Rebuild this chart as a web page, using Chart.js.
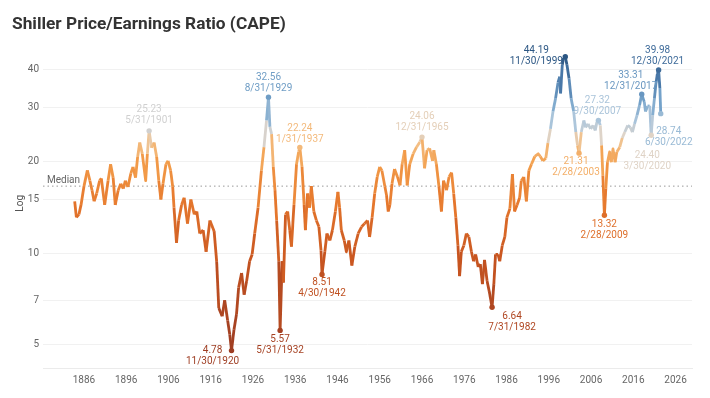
<!DOCTYPE html>
<html lang="en">
<head>
<meta charset="UTF-8">
<title>Shiller Price/Earnings Ratio (CAPE)</title>
<script src="https://cdn.jsdelivr.net/npm/chart.js"></script>
<style>
  html, body { margin: 0; padding: 0; background: #fff; }
</style>
</head>
<body>
<canvas id="cape" width="710" height="398"></canvas>
<script>
// CAPE readings (decimal year, ratio)
const years = [
  1883.8, 1884.2, 1884.8, 1885.3, 1886.0, 1886.8, 1887.4, 1887.9, 1888.4, 1889.0,
  1889.7, 1890.1, 1890.9, 1891.7, 1892.3, 1892.9, 1893.4, 1894.1, 1894.7, 1895.3,
  1895.8, 1896.4, 1897.1, 1897.6, 1898.2, 1898.7, 1899.2, 1899.8, 1900.6, 1901.0,
  1901.417, 1902.0, 1902.6, 1903.2, 1903.7, 1904.2, 1904.7, 1905.4, 1905.9, 1906.5,
  1907.0, 1907.3, 1907.9, 1908.4, 1909.1, 1909.7, 1910.5, 1911.3, 1912.1, 1912.7,
  1913.4, 1914.2, 1914.9, 1915.8, 1916.8, 1917.4, 1917.9, 1918.7, 1919.3, 1920.0,
  1920.5, 1920.917, 1921.5, 1922.1, 1922.6, 1923.3, 1923.9, 1924.5, 1925.2, 1925.8,
  1926.4, 1927.2, 1928.0, 1928.6, 1929.2, 1929.667, 1930.0, 1930.4, 1930.8, 1931.2,
  1931.6, 1932.1, 1932.417, 1932.9, 1933.2, 1933.7, 1934.2, 1934.7, 1935.1, 1935.7,
  1936.3, 1936.8, 1937.083, 1937.6, 1938.1, 1938.4, 1938.9, 1939.4, 1939.8, 1940.4,
  1941.0, 1941.6, 1942.1, 1942.333, 1943.0, 1943.5, 1944.2, 1944.8, 1945.5, 1946.1,
  1946.5, 1946.9, 1947.6, 1948.1, 1948.7, 1949.4, 1950.1, 1950.9, 1951.7, 1952.4,
  1953.1, 1953.6, 1954.2, 1954.8, 1955.4, 1956.0, 1956.5, 1957.2, 1957.6, 1958.0,
  1958.4, 1958.9, 1959.5, 1960.2, 1960.8, 1961.3, 1961.9, 1962.5, 1963.1, 1963.9,
  1964.7, 1965.5, 1966.0, 1966.6, 1967.2, 1967.8, 1968.5, 1968.8, 1969.4, 1970.0,
  1970.6, 1971.1, 1971.8, 1972.4, 1973.0, 1973.5, 1974.0, 1974.5, 1974.9, 1975.3,
  1975.9, 1976.5, 1977.1, 1977.7, 1978.2, 1978.7, 1979.3, 1979.8, 1980.3, 1980.8,
  1981.4, 1981.9, 1982.583, 1983.0, 1983.4, 1984.0, 1984.4, 1985.0, 1985.6, 1986.1,
  1986.8, 1987.4, 1987.9, 1988.5, 1989.1, 1989.5, 1990.1, 1990.7, 1991.3, 1991.9,
  1992.7, 1993.5, 1994.0, 1994.6, 1995.3, 1995.8, 1996.4, 1997.0, 1997.6, 1998.2,
  1998.6, 1998.8, 1999.2, 1999.5, 1999.917, 2000.3, 2000.8, 2001.3, 2001.9, 2002.4,
  2002.8, 2003.167, 2003.7, 2004.3, 2004.7, 2005.3, 2005.9, 2006.5, 2007.0, 2007.4,
  2007.75, 2008.2, 2008.5, 2008.8, 2009.167, 2009.5, 2009.9, 2010.4, 2010.8, 2011.2,
  2011.7, 2012.1, 2012.8, 2013.4, 2014.0, 2014.7, 2015.3, 2015.8, 2016.3, 2016.9,
  2017.5, 2018.0, 2018.6, 2018.9, 2019.4, 2019.9, 2020.24, 2020.6, 2021.0, 2021.4,
  2021.7, 2021.997, 2022.3, 2022.5
];
const cape = [
  14.8, 13.1, 13.4, 14.4, 16.6, 18.7, 17.3, 16.1, 14.8, 15.7,
  17.3, 17.6, 14.4, 17.3, 19.6, 17.7, 14.4, 16.1, 16.9, 16.3,
  17.3, 16.5, 18.3, 19.2, 17.7, 20.7, 23.1, 21.2, 17.3, 21.2,
  25.23, 22.2, 23.1, 20.7, 17.3, 15.0, 16.9, 19.6, 20.1, 18.7,
  16.5, 14.1, 10.8, 12.8, 14.4, 15.2, 12.5, 15.0, 13.4, 13.7,
  11.6, 11.9, 10.1, 12.8, 11.8, 9.4, 6.6, 6.2, 7.0, 6.0,
  5.4, 4.78, 5.6, 6.3, 7.7, 8.6, 7.3, 8.1, 9.4, 9.9,
  11.6, 14.1, 18.7, 22.3, 27.3, 32.56, 26.0, 24.6, 19.2, 16.1,
  12.8, 9.4, 5.57, 9.4, 8.0, 13.4, 13.7, 11.9, 10.5, 14.4,
  19.6, 21.5, 22.24, 19.2, 14.4, 11.9, 15.7, 14.1, 16.6, 13.7,
  12.8, 12.2, 10.2, 8.51, 10.1, 11.6, 11.0, 11.9, 13.7, 15.9,
  14.1, 11.9, 11.0, 10.1, 11.0, 9.1, 10.5, 11.6, 12.2, 12.5,
  12.8, 11.3, 13.1, 15.7, 17.8, 19.2, 18.7, 16.6, 15.5, 13.7,
  14.4, 16.9, 18.9, 17.8, 16.7, 19.6, 21.8, 16.7, 19.6, 21.2,
  22.3, 23.2, 24.06, 19.0, 21.8, 22.1, 20.1, 21.8, 19.6, 16.6,
  13.7, 17.3, 16.1, 17.8, 18.4, 15.7, 13.1, 10.6, 8.4, 10.1,
  10.6, 11.6, 11.3, 10.1, 9.4, 9.9, 9.0, 9.2, 7.9, 9.5,
  8.1, 7.5, 6.64, 7.9, 9.9, 9.9, 9.4, 10.6, 11.3, 13.1,
  14.0, 18.2, 13.7, 14.4, 15.2, 17.3, 17.8, 14.8, 18.7, 19.6,
  20.8, 21.2, 20.8, 20.1, 20.5, 23.0, 25.6, 29.2, 32.2, 36.4,
  38.0, 33.5, 41.6, 43.8, 44.19, 41.6, 37.5, 32.2, 29.2, 25.0,
  22.6, 21.31, 25.0, 27.3, 25.9, 26.6, 25.6, 26.3, 25.3, 27.0,
  27.32, 26.3, 22.6, 18.0, 13.32, 16.3, 19.9, 21.5, 19.9, 22.0,
  19.9, 21.5, 22.3, 23.9, 25.0, 26.3, 25.9, 25.0, 26.6, 28.4,
  30.7, 33.31, 31.4, 29.2, 30.4, 30.5, 24.40, 28.4, 32.2, 36.4,
  38.8, 39.98, 34.9, 28.74
];
const medianValue = 16.6;

// labelled highs and lows
const peakDates = ['5/31/1901', '8/31/1929', '1/31/1937', '11/30/1920', '5/31/1932', '4/30/1942',
  '12/31/1965', '7/31/1982', '11/30/1999', '2/28/2003', '9/30/2007', '2/28/2009',
  '12/31/2017', '3/30/2020', '12/30/2021', '6/30/2022'];
const peakValues = [25.23, 32.56, 22.24, 4.78, 5.57, 8.51, 24.06, 6.64, 44.19, 21.31, 27.32, 13.32,
  33.31, 24.40, 39.98, 28.74];

const xTicks = [1886, 1896, 1906, 1916, 1926, 1936, 1946, 1956, 1966, 1976, 1986, 1996, 2006, 2016, 2026];
const yTicks = [5, 7, 10, 15, 20, 30, 40];

// where each label sits relative to its dot (px)
const labelOffsets = [[0, -21], [0, -20], [0, -19], [-19, 0], [0, 9], [0, 8],
  [0, -21], [20, 9], [-29, -6], [-3, 8], [-1, -20], [0, 9],
  [-11, -19], [-4, 20], [-1, -20], [8, 18]];

const X_MIN = 1876.3, X_MAX = 2029.9;
const FONT = "Roboto, 'Noto Sans', sans-serif";

function dateToYear(s) {
  const [m, d, y] = s.split('/').map(Number);
  const dim = new Date(y, m, 0).getDate();
  return y + (m - 1 + d / dim) / 12;
}

// diverging orange -> blue, linear in value between the min and max
const stops = [
  [0.00, [158, 61, 34]],
  [0.12, [200, 85, 32]],
  [0.25, [230, 120, 45]],
  [0.38, [243, 158, 75]],
  [0.46, [243, 192, 135]],
  [0.50, [222, 212, 202]],
  [0.56, [176, 200, 220]],
  [0.68, [118, 164, 203]],
  [0.84, [71, 118, 166]],
  [1.00, [43, 86, 131]]
];
const vMin = Math.min(...cape), vMax = Math.max(...cape);
function colorFor(v) {
  const t = Math.max(0, Math.min(1, (v - vMin) / (vMax - vMin)));
  for (let i = 1; i < stops.length; i++) {
    if (t <= stops[i][0]) {
      const [t0, c0] = stops[i - 1], [t1, c1] = stops[i];
      const f = (t - t0) / (t1 - t0);
      const c = c0.map((a, k) => Math.round(a + (c1[k] - a) * f));
      return `rgb(${c[0]},${c[1]},${c[2]})`;
    }
  }
  return 'rgb(43,86,131)';
}

const annotate = {
  id: 'annotate',
  afterDatasetsDraw(chart) {
    const { ctx, chartArea } = chart;
    const x = chart.scales.x, y = chart.scales.y;
    ctx.save();
    ctx.font = `10px ${FONT}`;
    ctx.textAlign = 'center';
    ctx.textBaseline = 'middle';
    peakValues.forEach((v, i) => {
      const px = x.getPixelForValue(dateToYear(peakDates[i]));
      const py = y.getPixelForValue(v);
      const [dx, dy] = labelOffsets[i];
      ctx.fillStyle = colorFor(v);
      ctx.fillText(v.toFixed(2), px + dx, py + dy);
      ctx.fillText(peakDates[i], px + dx, py + dy + 11);
    });
    ctx.fillStyle = '#666';
    ctx.textAlign = 'left';
    ctx.fillText('Median', chartArea.left + 4, y.getPixelForValue(medianValue) - 6);
    ctx.translate(20, (chartArea.top + chartArea.bottom) / 2 - 5);
    ctx.rotate(-Math.PI / 2);
    ctx.textAlign = 'center';
    ctx.fillStyle = '#555';
    ctx.fillText('Log', 0, 0);
    ctx.restore();
  }
};

new Chart(document.getElementById('cape'), {
  type: 'line',
  data: {
    datasets: [
      {
        label: 'Peaks',
        data: peakValues.map((v, i) => ({ x: dateToYear(peakDates[i]), y: v })),
        showLine: false,
        pointRadius: 2.7,
        pointBorderWidth: 0,
        pointBackgroundColor: peakValues.map(colorFor),
        order: 0
      },
      {
        label: 'CAPE',
        data: years.map((yr, i) => ({ x: yr, y: cape[i] })),
        borderWidth: 2.8,
        borderColor: '#e8832f',
        pointRadius: 0,
        tension: 0,
        borderJoinStyle: 'round',
        segment: {
          borderColor: c => colorFor((c.p0.parsed.y + c.p1.parsed.y) / 2)
        },
        order: 1
      },
      {
        label: 'Median',
        data: [{ x: X_MIN, y: medianValue }, { x: X_MAX, y: medianValue }],
        borderColor: '#9a9a9a',
        borderWidth: 1,
        borderDash: [1.5, 3],
        pointRadius: 0,
        order: 2
      }
    ]
  },
  options: {
    responsive: false,
    animation: false,
    devicePixelRatio: 1,
    layout: { padding: { left: 12, right: 18, top: 0, bottom: 0 } },
    plugins: {
      legend: { display: false },
      tooltip: { enabled: false },
      title: {
        display: true,
        text: 'Shiller Price/Earnings Ratio (CAPE)',
        align: 'start',
        color: '#333',
        font: { family: FONT, size: 17.3, weight: 'bold' },
        padding: { top: 14, bottom: 13.9 }
      }
    },
    scales: {
      x: {
        type: 'linear',
        min: X_MIN,
        max: X_MAX,
        afterBuildTicks: s => { s.ticks = xTicks.map(v => ({ value: v })); },
        afterFit: s => { s.height = 30; },
        ticks: {
          callback: v => String(v),
          color: '#666',
          font: { family: FONT, size: 10 },
          padding: 6,
          maxRotation: 0,
          autoSkip: false
        },
        grid: { display: false, drawTicks: false },
        border: { display: true, color: '#ebebeb' }
      },
      y: {
        type: 'logarithmic',
        min: 4.19,
        max: 47,
        afterBuildTicks: s => { s.ticks = yTicks.map(v => ({ value: v })); },
        afterFit: s => { s.width = 31; },
        ticks: {
          callback: v => String(v),
          color: '#666',
          font: { family: FONT, size: 10 },
          padding: 4
        },
        grid: { color: '#f1f1f1', drawTicks: false },
        border: { display: false }
      }
    }
  },
  plugins: [annotate]
});
</script>
</body>
</html>
